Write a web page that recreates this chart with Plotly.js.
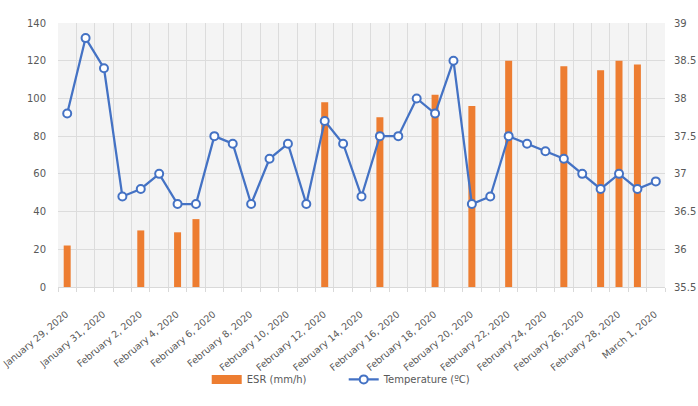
<!DOCTYPE html>
<html>
<head>
<meta charset="utf-8">
<script src="https://cdn.plot.ly/plotly-3.0.1.min.js"></script>
<style>html,body{margin:0;padding:0;background:#fff;}#chart{width:698px;height:406px;}</style>
</head>
<body>
<div id="chart"></div>
<script>
const dates = [
  "2020-01-29","2020-01-30","2020-01-31","2020-02-01","2020-02-02","2020-02-03","2020-02-04",
  "2020-02-05","2020-02-06","2020-02-07","2020-02-08","2020-02-09","2020-02-10","2020-02-11",
  "2020-02-12","2020-02-13","2020-02-14","2020-02-15","2020-02-16","2020-02-17","2020-02-18",
  "2020-02-19","2020-02-20","2020-02-21","2020-02-22","2020-02-23","2020-02-24","2020-02-25",
  "2020-02-26","2020-02-27","2020-02-28","2020-02-29","2020-03-01"
];
const esr = [
  22, null, null, null, 30, null, 29,
  36, null, null, null, null, null, null,
  98, null, null, 90, null, null, 102,
  null, 96, null, 120, null, null, 117,
  null, 115, 120, 118, null
];
const temperature = [
  37.8, 38.8, 38.4, 36.7, 36.8, 37.0, 36.6,
  36.6, 37.5, 37.4, 36.6, 37.2, 37.4, 36.6,
  37.7, 37.4, 36.7, 37.5, 37.5, 38.0, 37.8,
  38.5, 36.6, 36.7, 37.5, 37.4, 37.3, 37.2,
  37.0, 36.8, 37.0, 36.8, 36.9
];
const esrName = "ESR (mm/h)";
const tempName = "Temperature (ºC)";

const DAY = 86400000;
const ESR_COLOR = "#ED7D31";
const TEMP_COLOR = "#4472C4";
const font = {family: "DejaVu Sans, Verdana, sans-serif", size: 10, color: "#595959"};
const xfont = {family: font.family, size: 9.5, color: "#595959"};

const traces = [
  {
    type: "bar", name: esrName, x: dates, y: esr,
    marker: {color: ESR_COLOR}, width: 0.38 * DAY, yaxis: "y",
    showlegend: false
  },
  {
    // legend swatch for ESR (wide rectangle like the reference)
    type: "scatter", mode: "lines", name: esrName, x: [null], y: [null],
    line: {color: ESR_COLOR, width: 9}, yaxis: "y", showlegend: true
  },
  {
    type: "scatter", mode: "lines+markers", name: tempName, x: dates, y: temperature,
    yaxis: "y2",
    line: {color: TEMP_COLOR, width: 2.25},
    marker: {symbol: "circle", size: 8, color: "#ffffff", line: {color: TEMP_COLOR, width: 2}}
  }
];

const layout = {
  width: 698, height: 406,
  margin: {l: 58, r: 33, t: 23, b: 117},
  paper_bgcolor: "#ffffff",
  plot_bgcolor: "#f4f4f4",
  font: font,
  showlegend: true,
  legend: {orientation: "h", x: 0.245, xanchor: "left", y: -0.35, yanchor: "middle",
           font: {family: font.family, size: 10, color: "#595959"},
           entrywidth: 92, entrywidthmode: "pixels",
           traceorder: "normal", bgcolor: "rgba(0,0,0,0)"},
  xaxis: {
    type: "date",
    range: ["2020-01-28 12:00", "2020-03-01 12:00"],
    tick0: "2020-01-29", dtick: 2 * DAY,
    tickformat: "%B %-d, %Y",
    tickangle: -40,
    ticklabeloverflow: "allow",
    ticklabelstandoff: 17,
    ticklabelshift: -1,
    showgrid: false, ticks: "", ticklen: 0,
    showline: true, linecolor: "#d9d9d9", linewidth: 1,
    zeroline: false,
    minor: {tick0: "2020-01-28 12:00", dtick: DAY, showgrid: true, gridcolor: "#dcdcdc",
            gridwidth: 1, ticks: "outside", ticklen: 4, tickcolor: "#d9d9d9"},
    tickfont: xfont
  },
  yaxis: {
    range: [0, 140], dtick: 20, tick0: 0,
    showgrid: true, gridcolor: "#dcdcdc", gridwidth: 1,
    zeroline: false, showline: false, ticks: "",
    tickfont: font, ticklabelstandoff: 11
  },
  yaxis2: {
    overlaying: "y", side: "right",
    range: [35.5, 39], dtick: 0.5, tick0: 35.5,
    showgrid: false, zeroline: false, showline: false, ticks: "",
    tickfont: font, ticklabelstandoff: 8
  },
  bargap: 0.6
};

Plotly.newPlot("chart", traces, layout, {displayModeBar: false, staticPlot: true});
</script>
</body>
</html>
